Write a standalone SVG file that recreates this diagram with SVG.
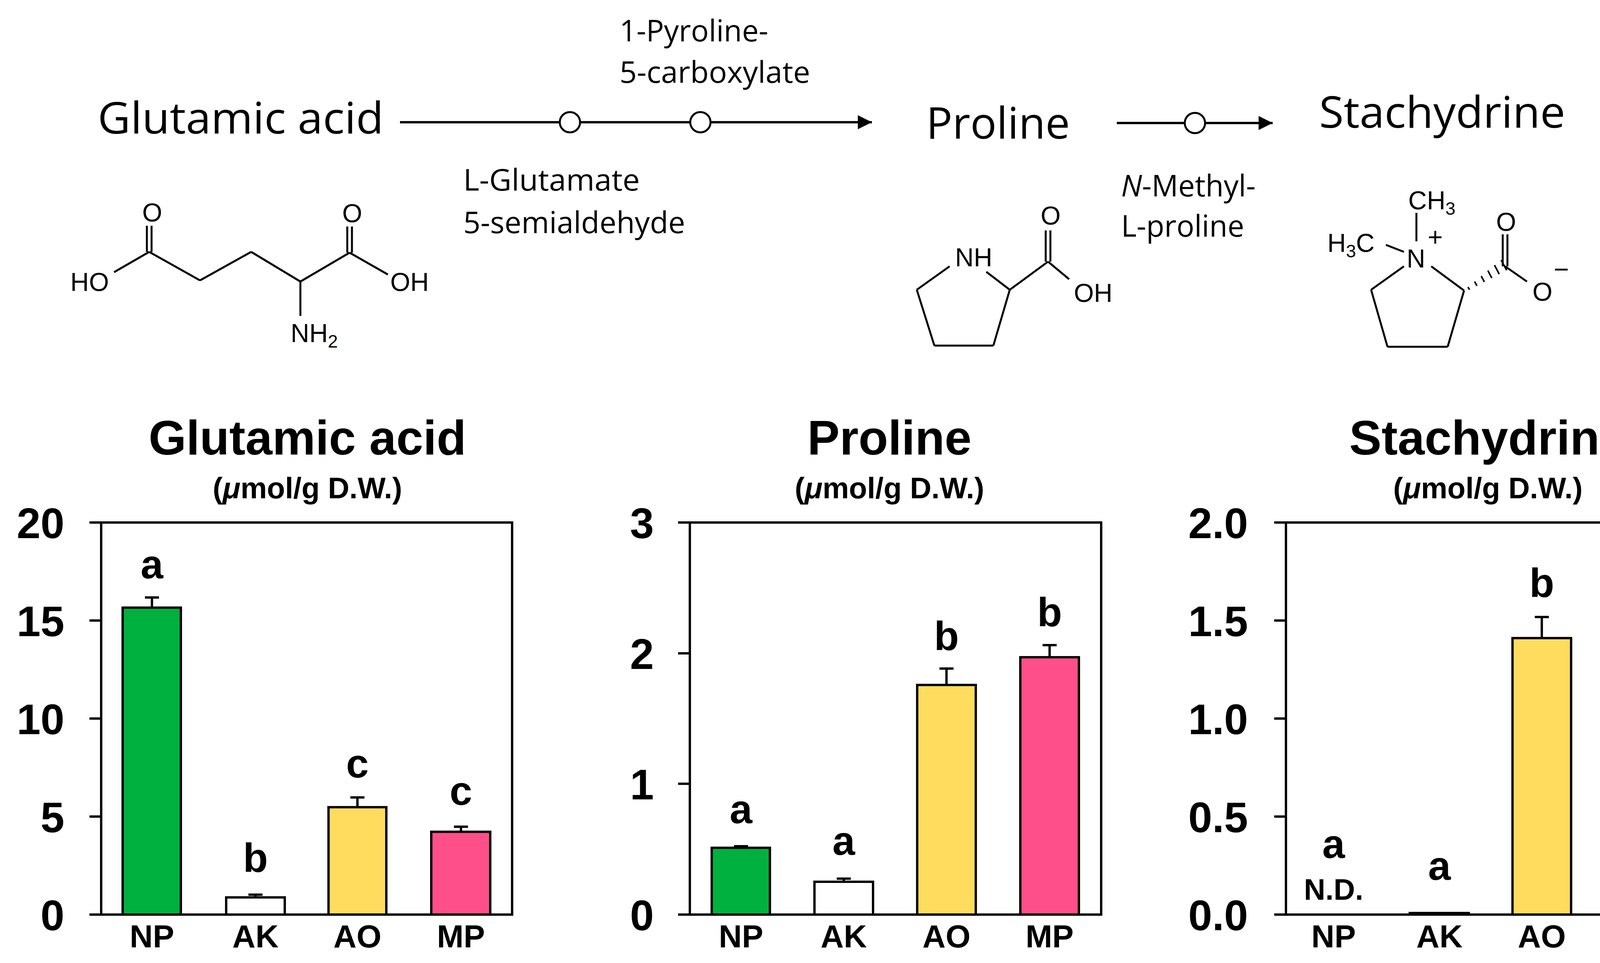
<svg xmlns="http://www.w3.org/2000/svg" width="4397" height="2466" viewBox="0 0 4397 2466">
<defs>
<marker id="ah" viewBox="0 0 10 10" refX="10" refY="5" markerWidth="44" markerHeight="36" markerUnits="userSpaceOnUse" orient="auto"><path d="M0,0 L10,5 L0,10 z" fill="#000"/></marker>
<style>
.pw{font-family:"Open Sans","Noto Sans",sans-serif;font-size:112px;fill:#000}
.lab{font-family:"Open Sans","Noto Sans",sans-serif;font-size:76px;fill:#000}
.chem{font-family:"Liberation Sans",Arial,sans-serif;font-size:66px;fill:#000}
.bd{stroke:#000;stroke-width:5;fill:none}
.ttl{font-family:"Liberation Sans",Arial,sans-serif;font-weight:bold;font-size:124px;text-anchor:middle}
.sub{font-family:"Liberation Sans",Arial,sans-serif;font-weight:bold;font-size:76px;text-anchor:middle}
.tk{font-family:"Liberation Sans",Arial,sans-serif;font-weight:bold;font-size:110px;text-anchor:end}
.xl{font-family:"Liberation Sans",Arial,sans-serif;font-weight:bold;font-size:82px;text-anchor:middle}
.lt{font-family:"Liberation Sans",Arial,sans-serif;font-weight:bold;font-size:104px;text-anchor:middle}
.fr{fill:none;stroke:#000;stroke-width:6}
.bar{stroke:#000;stroke-width:6}
.ax{stroke:#000;stroke-width:6}
.con{stroke:#000;stroke-width:6;fill:none}
.dot{fill:#fff;stroke:#000;stroke-width:5}
</style>
</defs>
<rect width="4397" height="2466" fill="#fff"/>

<g id="connectors">
<line class="con" x1="1024" y1="313" x2="2232" y2="313" marker-end="url(#ah)"/>
<circle class="dot" cx="1459" cy="313" r="26"/>
<circle class="dot" cx="1793" cy="313" r="26"/>
<line class="con" x1="2859" y1="315" x2="3258" y2="315" marker-end="url(#ah)"/>
<circle class="dot" cx="3059" cy="315" r="26"/>
</g>

<g id="node-glutamic">
<text class="pw" x="250" y="342" textLength="732" lengthAdjust="spacingAndGlyphs">Glutamic acid</text>
<g class="bd">
<line x1="292" y1="697" x2="382" y2="645"/>
<line x1="382" y1="645" x2="512" y2="718"/>
<line x1="512" y1="718" x2="643" y2="645"/>
<line x1="643" y1="645" x2="769" y2="721"/>
<line x1="769" y1="721" x2="895" y2="647"/>
<line x1="895" y1="647" x2="993" y2="703"/>
<line x1="769" y1="721" x2="769" y2="809"/>
<line x1="376" y1="645" x2="376" y2="578"/><line x1="388" y1="645" x2="388" y2="578"/>
<line x1="889" y1="647" x2="889" y2="580"/><line x1="901" y1="647" x2="901" y2="580"/>
</g>
<text class="chem" x="180" y="745">HO</text>
<text class="chem" x="999" y="745">OH</text>
<text class="chem" x="364" y="567">O</text>
<text class="chem" x="876" y="569">O</text>
<text class="chem" x="744" y="876">NH<tspan font-size="46" dy="14">2</tspan></text>
</g>

<g id="node-p5c">
<text class="lab" x="1586" y="106">1-Pyroline-</text>
<text class="lab" x="1586" y="212" textLength="488" lengthAdjust="spacingAndGlyphs">5-carboxylate</text>
</g>
<g id="node-gsa">
<text class="lab" x="1186" y="488" textLength="452" lengthAdjust="spacingAndGlyphs">L-Glutamate</text>
<text class="lab" x="1186" y="597" textLength="568" lengthAdjust="spacingAndGlyphs">5-semialdehyde</text>
</g>

<g id="node-proline">
<text class="pw" x="2371" y="355" textLength="368" lengthAdjust="spacingAndGlyphs">Proline</text>
<g class="bd">
<line x1="2431" y1="682" x2="2347" y2="742"/>
<line x1="2347" y1="742" x2="2392" y2="885"/>
<line x1="2392" y1="885" x2="2543" y2="885"/>
<line x1="2543" y1="885" x2="2585" y2="742"/>
<line x1="2585" y1="742" x2="2525" y2="696"/>
<line x1="2585" y1="742" x2="2683" y2="670"/>
<line x1="2683" y1="670" x2="2737" y2="715"/>
<line x1="2677" y1="670" x2="2677" y2="590"/><line x1="2689" y1="670" x2="2689" y2="590"/>
</g>
<text class="chem" x="2445" y="682">NH</text>
<text class="chem" x="2664" y="575">O</text>
<text class="chem" x="2749" y="773">OH</text>
</g>

<g id="node-nmp">
<text class="lab" x="2870" y="503"><tspan font-style="italic">N</tspan>-Methyl-</text>
<text class="lab" x="2870" y="606">L-proline</text>
</g>

<g id="node-stachydrine">
<text class="pw" x="3377" y="327" textLength="630" lengthAdjust="spacingAndGlyphs">Stachydrine</text>
<g class="bd">
<line x1="3626" y1="545" x2="3626" y2="618"/>
<line x1="3548" y1="627" x2="3594" y2="645"/>
<line x1="3594" y1="682" x2="3510" y2="742"/>
<line x1="3510" y1="742" x2="3552" y2="888"/>
<line x1="3552" y1="888" x2="3706" y2="888"/>
<line x1="3706" y1="888" x2="3748" y2="744"/>
<line x1="3748" y1="744" x2="3664" y2="682"/>
<line x1="3847" y1="682" x2="3847" y2="600"/><line x1="3859" y1="682" x2="3859" y2="600"/>
<line x1="3853" y1="682" x2="3909" y2="721"/>
</g>
<g stroke="#000" stroke-width="4">
<line x1="3758" y1="735" x2="3762" y2="742"/>
<line x1="3775" y1="721" x2="3781" y2="732"/>
<line x1="3792" y1="707" x2="3800" y2="722"/>
<line x1="3809" y1="693" x2="3819" y2="712"/>
<line x1="3826" y1="679" x2="3838" y2="702"/>
<line x1="3843" y1="666" x2="3857" y2="692"/>
</g>
<text class="chem" x="3605" y="536">CH<tspan font-size="46" dy="14">3</tspan></text>
<text class="chem" x="3398" y="645">H<tspan font-size="46" dy="14">3</tspan><tspan dy="-14">C</tspan></text>
<text class="chem" x="3601" y="685">N</text>
<text class="chem" x="3655" y="630" font-size="48">+</text>
<text class="chem" x="3830" y="591">O</text>
<text class="chem" x="3923" y="770">O</text>
<text class="chem" x="3978" y="712" font-size="48">−</text>
</g>

<g id="chart-glutamic">
<text class="ttl" x="787" y="1164">Glutamic acid</text>
<text class="sub" x="787" y="1276">(<tspan font-style="italic">μ</tspan>mol/g D.W.)</text>
<rect class="bar" x="314" y="1556" width="149" height="786" fill="#00B140"/>
<rect class="bar" x="579" y="2298" width="150" height="44" fill="#fff"/>
<rect class="bar" x="841" y="2067" width="148" height="275" fill="#FFDB5E"/>
<rect class="bar" x="1104" y="2130" width="151" height="212" fill="#FF4F8B"/>
<g class="ax">
<line x1="389" y1="1556" x2="389" y2="1530"/><line x1="371" y1="1530" x2="407" y2="1530"/>
<line x1="654" y1="2298" x2="654" y2="2291"/><line x1="636" y1="2291" x2="672" y2="2291"/>
<line x1="915" y1="2067" x2="915" y2="2042"/><line x1="897" y1="2042" x2="933" y2="2042"/>
<line x1="1180" y1="2130" x2="1180" y2="2117"/><line x1="1162" y1="2117" x2="1198" y2="2117"/>
<line x1="229" y1="1338" x2="259" y2="1338"/><line x1="229" y1="1589" x2="259" y2="1589"/>
<line x1="229" y1="1840" x2="259" y2="1840"/><line x1="229" y1="2091" x2="259" y2="2091"/>
<line x1="229" y1="2342" x2="259" y2="2342"/>
</g>
<rect class="fr" x="259" y="1338" width="1052" height="1004"/>
<text class="tk" x="165" y="1378">20</text><text class="tk" x="165" y="1629">15</text>
<text class="tk" x="165" y="1880">10</text><text class="tk" x="165" y="2131">5</text>
<text class="tk" x="165" y="2382">0</text>
<text class="lt" x="389" y="1481">a</text><text class="lt" x="654" y="2232">b</text>
<text class="lt" x="915" y="1991">c</text><text class="lt" x="1180" y="2061">c</text>
<text class="xl" x="389" y="2426">NP</text><text class="xl" x="654" y="2426">AK</text>
<text class="xl" x="915" y="2426">AO</text><text class="xl" x="1180" y="2426">MP</text>
</g>

<g id="chart-proline">
<text class="ttl" x="2277" y="1164">Proline</text>
<text class="sub" x="2277" y="1276">(<tspan font-style="italic">μ</tspan>mol/g D.W.)</text>
<rect class="bar" x="1822" y="2171" width="149" height="171" fill="#00B140"/>
<rect class="bar" x="2085" y="2258" width="150" height="84" fill="#fff"/>
<rect class="bar" x="2348" y="1754" width="150" height="588" fill="#FFDB5E"/>
<rect class="bar" x="2612" y="1683" width="150" height="659" fill="#FF4F8B"/>
<g class="ax">
<line x1="1897" y1="2171" x2="1897" y2="2167"/><line x1="1879" y1="2167" x2="1915" y2="2167"/>
<line x1="2160" y1="2258" x2="2160" y2="2250"/><line x1="2142" y1="2250" x2="2178" y2="2250"/>
<line x1="2423" y1="1754" x2="2423" y2="1712"/><line x1="2405" y1="1712" x2="2441" y2="1712"/>
<line x1="2687" y1="1683" x2="2687" y2="1652"/><line x1="2669" y1="1652" x2="2705" y2="1652"/>
<line x1="1736" y1="1338" x2="1766" y2="1338"/><line x1="1736" y1="1673" x2="1766" y2="1673"/>
<line x1="1736" y1="2007" x2="1766" y2="2007"/><line x1="1736" y1="2342" x2="1766" y2="2342"/>
</g>
<rect class="fr" x="1766" y="1338" width="1053" height="1004"/>
<text class="tk" x="1674" y="1378">3</text><text class="tk" x="1674" y="1713">2</text>
<text class="tk" x="1674" y="2047">1</text><text class="tk" x="1674" y="2382">0</text>
<text class="lt" x="1897" y="2108">a</text><text class="lt" x="2160" y="2189">a</text>
<text class="lt" x="2423" y="1664">b</text><text class="lt" x="2687" y="1603">b</text>
<text class="xl" x="1897" y="2426">NP</text><text class="xl" x="2160" y="2426">AK</text>
<text class="xl" x="2423" y="2426">AO</text><text class="xl" x="2687" y="2426">MP</text>
</g>

<g id="chart-stachydrine">
<text class="ttl" x="3809" y="1164">Stachydrine</text>
<text class="sub" x="3809" y="1276">(<tspan font-style="italic">μ</tspan>mol/g D.W.)</text>
<rect class="bar" x="3609" y="2338" width="151" height="4" fill="#fff"/>
<rect class="bar" x="3872" y="1634" width="150" height="708" fill="#FFDB5E"/>
<rect class="bar" x="4135" y="2316" width="149" height="26" fill="#FF4F8B"/>
<g class="ax">
<line x1="3947" y1="1634" x2="3947" y2="1580"/><line x1="3929" y1="1580" x2="3965" y2="1580"/>
<line x1="4210" y1="2316" x2="4210" y2="2313"/><line x1="4192" y1="2313" x2="4228" y2="2313"/>
<line x1="3262" y1="1338" x2="3292" y2="1338"/><line x1="3262" y1="1589" x2="3292" y2="1589"/>
<line x1="3262" y1="1840" x2="3292" y2="1840"/><line x1="3262" y1="2091" x2="3292" y2="2091"/>
<line x1="3262" y1="2342" x2="3292" y2="2342"/>
</g>
<rect class="fr" x="3292" y="1338" width="1049" height="1004"/>
<text class="tk" x="3195" y="1378">2.0</text><text class="tk" x="3195" y="1629">1.5</text>
<text class="tk" x="3195" y="1880">1.0</text><text class="tk" x="3195" y="2131">0.5</text>
<text class="tk" x="3195" y="2382">0.0</text>
<text class="lt" x="3414" y="2197">a</text>
<text class="sub" x="3414" y="2304">N.D.</text>
<text class="lt" x="3685" y="2253">a</text>
<text class="lt" x="3947" y="1528">b</text><text class="lt" x="4210" y="2253">a</text>
<text class="xl" x="3414" y="2426">NP</text><text class="xl" x="3685" y="2426">AK</text>
<text class="xl" x="3947" y="2426">AO</text><text class="xl" x="4210" y="2426">MP</text>
</g>
</svg>
